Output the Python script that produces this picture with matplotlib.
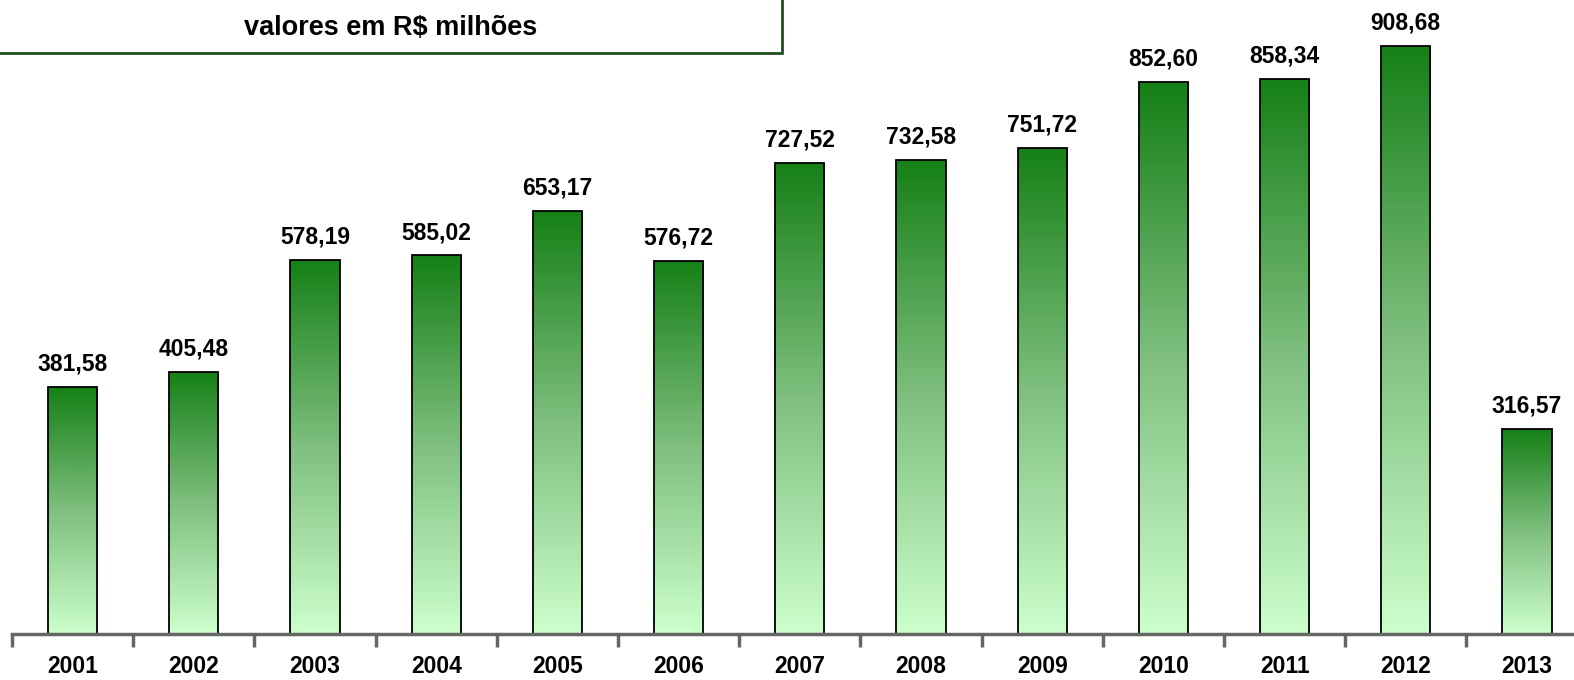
import numpy as np
import matplotlib
matplotlib.use("Agg")
import matplotlib.pyplot as plt
from matplotlib.colors import LinearSegmentedColormap
from matplotlib.patches import Rectangle

anos = ["2001", "2002", "2003", "2004", "2005", "2006", "2007",
        "2008", "2009", "2010", "2011", "2012", "2013"]
valores = [381.58, 405.48, 578.19, 585.02, 653.17, 576.72, 727.52,
           732.58, 751.72, 852.60, 858.34, 908.68, 316.57]
titulo = "valores em R$ milhões"

plt.rcParams['font.family'] = ['Liberation Sans', 'DejaVu Sans']

W, H = 1574, 680
fig = plt.figure(figsize=(W / 100, H / 100), dpi=100)
# eixo um pouco mais largo que a figura (o original corta a direita)
ax = fig.add_axes([12 / W, 46 / H, 13 * 121.2 / W, 634 / H])

x = np.arange(len(anos))
largura = 0.405
ymax = 634 / 0.647

cmap = LinearSegmentedColormap.from_list("verde", ["#ccffcc", "#7fbf7f", "#168016"])
grad = np.linspace(0, 1, 256).reshape(-1, 1)

bars = ax.bar(x, valores, width=largura, facecolor="none", edgecolor="black",
              linewidth=1.3, zorder=3)
for b, v in zip(bars, valores):
    x0 = b.get_x()
    im = ax.imshow(grad, cmap=cmap, origin="lower", aspect="auto",
                   extent=(x0, x0 + b.get_width(), 0, v), zorder=2,
                   interpolation="bicubic")
    im.set_clip_path(b)
    ax.text(b.get_x() + b.get_width() / 2, v + ymax * 0.018,
            f"{v:.2f}".replace(".", ","), ha="center", va="bottom",
            fontsize=16.5, fontweight="bold")
ax.set_xlim(-0.5, len(anos) - 0.5)
ax.set_ylim(0, ymax)

for s in ["top", "right", "left"]:
    ax.spines[s].set_visible(False)
ax.spines["bottom"].set_color("#666666")
ax.spines["bottom"].set_linewidth(2.5)
ax.spines["bottom"].set_zorder(4)
ax.set_yticks([])
ax.set_xticks(x)
ax.set_xticklabels(anos, fontsize=16.5, fontweight="bold")
ax.tick_params(axis="x", which="major", length=0, pad=15)
ax.set_xticks(np.arange(-0.5, len(anos)), minor=True)
ax.tick_params(axis="x", which="minor", length=9, width=2.5, color="#666666")

fig.patches.append(Rectangle((-2 / W, 1 - 53 / H), 784 / W, 60 / H,
                             transform=fig.transFigure, facecolor="white",
                             edgecolor="#1f4f1f", linewidth=2, zorder=5))
fig.text(391 / W, 1 - 28 / H, titulo, ha="center", va="center",
         fontsize=19.5, fontweight="bold", zorder=6)

fig.savefig("out.png", dpi=100)
